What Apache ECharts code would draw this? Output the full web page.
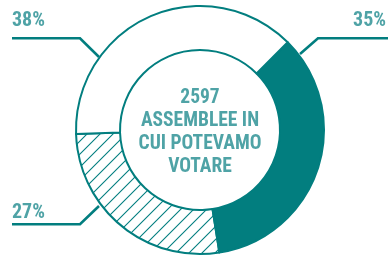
<!DOCTYPE html>
<html lang="it">
<head>
    <meta charset="UTF-8">
    <title>Assemblee</title>
    <style>
        html, body { margin: 0; padding: 0; background: #fff; }
    </style>
</head>
<body>
<div id="main" style="width:388px;height:256px;"></div>
<script src="https://cdn.jsdelivr.net/npm/echarts@6/dist/echarts.min.js"></script>
<script>
    // dati
    var categories = ['votato', 'tratteggio', 'bianco'];
    var values = [35, 27, 38];
    var centerTitle = ['2597', 'ASSEMBLEE IN', 'CUI POTEVAMO', 'VOTARE'];

    var teal = '#027e7f';
    var textTeal = '#4fa3a6';
    var fontFam = '"Roboto Condensed", "Liberation Sans Narrow", sans-serif';

    // tratteggio diagonale
    var step = 13;
    var tile = document.createElement('canvas');
    tile.width = step;
    tile.height = step;
    var ctx = tile.getContext('2d');
    ctx.strokeStyle = teal;
    ctx.lineWidth = 1.1;
    ctx.beginPath();
    [-step, 0, step].forEach(function (o) {
        ctx.moveTo(o - 2, step + 2);
        ctx.lineTo(o + step + 2, -2);
    });
    ctx.stroke();

    var fills = [teal, { image: tile, repeat: 'repeat' }, '#ffffff'];

    // posizione etichette (x, y testo, punti della linea)
    var labelPos = [
        { x: 386, y: 20.5, align: 'right', pts: [[388, 38.3], [318, 38.3], [300, 54]] },
        { x: 12, y: 212.5, align: 'left', pts: [[12, 224.3], [80, 224.3], [99, 206]] },
        { x: 12, y: 20.5, align: 'left', pts: [[12, 38.3], [80, 38.3], [99, 57]] }
    ];

    var myChart = echarts.init(document.getElementById('main'));
    var option = {
        backgroundColor: '#fff',
        animation: false,
        title: {
            text: centerTitle.join('\n'),
            left: 200,
            top: 87,
            padding: 0,
            textAlign: 'center',
            textStyle: {
                color: textTeal,
                fontFamily: fontFam,
                fontWeight: 'bold',
                fontSize: 19.5,
                lineHeight: 22.8
            }
        },
        series: [
            {
                type: 'pie',
                center: [200, 130],
                radius: [80, 124],
                startAngle: 45,
                clockwise: true,
                avoidLabelOverlap: false,
                data: categories.map(function (c, i) {
                    return { name: c, value: values[i], itemStyle: { color: fills[i] } };
                }),
                itemStyle: {
                    borderColor: teal,
                    borderWidth: 2
                },
                label: {
                    show: true,
                    position: 'outside',
                    formatter: '{c}%',
                    color: textTeal,
                    fontFamily: fontFam,
                    fontWeight: 'bold',
                    fontSize: 20
                },
                labelLine: {
                    show: true,
                    lineStyle: { color: teal, width: 2.6 }
                },
                labelLayout: function (p) {
                    var l = labelPos[p.dataIndex];
                    return {
                        x: l.x,
                        y: l.y,
                        align: l.align,
                        verticalAlign: 'middle',
                        labelLinePoints: l.pts
                    };
                },
                emphasis: { disabled: true }
            }
        ]
    };
    myChart.setOption(option);
</script>
</body>
</html>
